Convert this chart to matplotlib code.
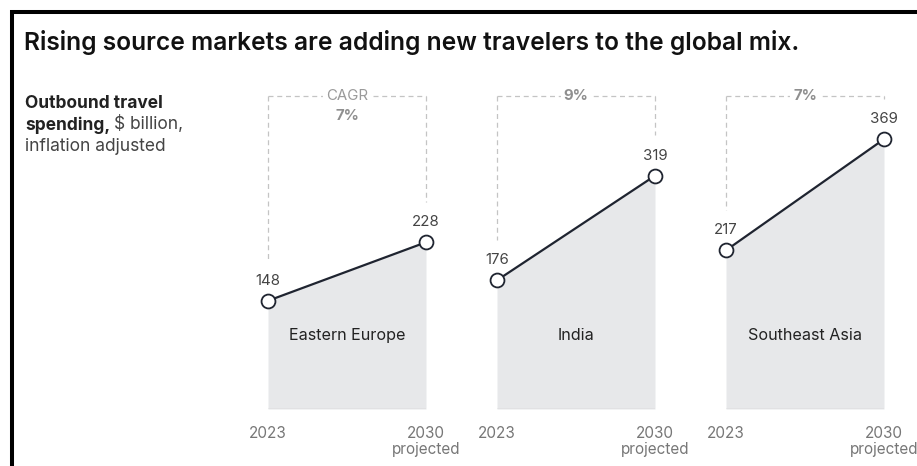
import matplotlib
matplotlib.use("Agg")
import matplotlib.pyplot as plt
from matplotlib.lines import Line2D

plt.rcParams['font.family'] = ['Inter', 'DejaVu Sans']

regions = ["Eastern Europe", "India", "Southeast Asia"]
values_2023 = [148, 176, 217]
values_2030 = [228, 319, 369]
cagr = ["7%", "9%", "7%"]
tick_labels = ["2023", "2030\nprojected"]
title = "Rising source markets are adding new travelers to the global mix."

W, H = 917, 466
fig = plt.figure(figsize=(W / 100, H / 100), dpi=100)
fig.patch.set_facecolor("white")

def fx(px):
    return px / W

def fy(py):
    return 1 - py / H

# frame lines (top and left)
fig.add_artist(Line2D([fx(10), fx(917)], [fy(11.5), fy(11.5)], color="black", lw=2.9,
                      transform=fig.transFigure, solid_capstyle="butt"))
fig.add_artist(Line2D([fx(11.5), fx(11.5)], [fy(10), fy(466)], color="black", lw=2.9,
                      transform=fig.transFigure, solid_capstyle="butt"))

fig.text(fx(24), fy(50), title, fontsize=17.7, fontweight="semibold", color="#111111",
         va="baseline", ha="left")

# left side label
fs_lab = 12.5
fig.text(fx(25), fy(108), "Outbound travel", fontsize=fs_lab, fontweight="bold",
         color="#222222", va="baseline", ha="left")
t2 = fig.text(fx(25), fy(129.5), "spending,", fontsize=fs_lab, fontweight="bold",
              color="#222222", va="baseline", ha="left")
fig.canvas.draw()
r = fig.canvas.get_renderer()
bb = t2.get_window_extent(renderer=r)
fig.text(bb.x1 / W + fx(4), fy(129.5), "$ billion,", fontsize=fs_lab, color="#444444",
         va="baseline", ha="left")
fig.text(fx(25), fy(151), "inflation adjusted", fontsize=fs_lab, color="#444444",
         va="baseline", ha="left")

panel_left = [268, 497, 726]
panel_w = 158
base_py = 409
top_py = 96
ymax = 428

for i in range(3):
    ax = fig.add_axes([fx(panel_left[i]), fy(base_py), panel_w / W, (base_py - top_py) / H])
    ax.set_xlim(0, 1)
    ax.set_ylim(0, ymax)
    for s in ax.spines.values():
        s.set_visible(False)
    ax.set_facecolor("none")
    xs = [0, 1]
    ys = [values_2023[i], values_2030[i]]
    ax.fill_between(xs, [0, 0], ys, color="#e7e8ea", lw=0, zorder=1)
    ax.plot(xs, [0, 0], color="#c9c9cb", lw=1, zorder=2)
    ax.plot(xs, ys, color="#1f2430", lw=1.6, zorder=3,
            marker="o", markersize=10, markerfacecolor="white",
            markeredgecolor="#1f2430", markeredgewidth=1.3, clip_on=False)
    for x, y in zip(xs, ys):
        ax.annotate(str(y), (x, y), xytext=(0, 14.5), textcoords="offset points",
                    ha="center", va="center", fontsize=10.8, color="#444444")
    # dashed CAGR bracket
    dcol = "#c4c4c4"
    ax.plot([0, 0], [ymax, ys[0] + 55], color=dcol, lw=0.9, ls=(0, (4, 3)), clip_on=False, zorder=0)
    ax.plot([1, 1], [ymax, ys[1] + 55], color=dcol, lw=0.9, ls=(0, (4, 3)), clip_on=False, zorder=0)
    ax.plot([0, 1], [ymax, ymax], color=dcol, lw=0.9, ls=(0, (4, 3)), clip_on=False, zorder=0)
    if i == 0:
        ax.text(0.5, ymax, "CAGR", ha="center", va="center", fontsize=10.8, color="#9a9a9a",
                bbox=dict(facecolor="white", edgecolor="none", pad=2), zorder=4)
        ax.text(0.5, ymax - 28, cagr[i], ha="center", va="center", fontsize=10.8,
                fontweight="bold", color="#8f8f8f", zorder=4)
    else:
        ax.text(0.5, ymax, cagr[i], ha="center", va="center", fontsize=10.8,
                fontweight="bold", color="#8f8f8f",
                bbox=dict(facecolor="white", edgecolor="none", pad=2), zorder=4)
    ax.text(0.5, 101, regions[i], ha="center", va="center", fontsize=11.6, color="#222222", zorder=4)
    ax.set_yticks([])
    ax.set_xticks(xs)
    ax.set_xticklabels(tick_labels, fontsize=11, color="#777777", linespacing=1.1)
    ax.tick_params(axis="x", length=0, pad=12)

fig.savefig("out.png", dpi=100, facecolor="white")
